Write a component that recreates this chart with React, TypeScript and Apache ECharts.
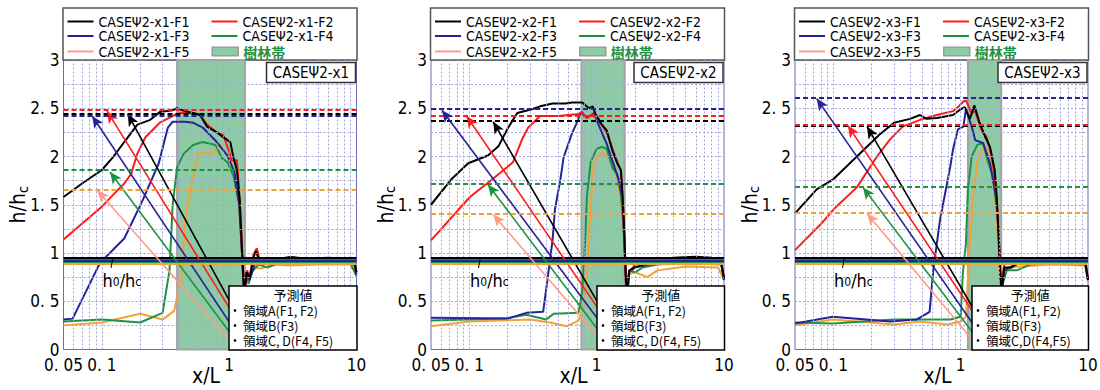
import React, { useEffect, useRef } from 'react';
import * as echarts from 'echarts';

// ---------- data ----------
const CASES = ['x1', 'x2', 'x3'];
const RUNS = ['F1', 'F2', 'F3', 'F4', 'F5'];
const X_LABELS = [0.05, 0.1, 1, 10];
const Y_LABELS = [0, 0.5, 1, 1.5, 2, 2.5, 3];
const X_GRID = [0.06, 0.07, 0.08, 0.09, 0.1, 0.2, 0.3, 0.4, 0.5, 0.6, 0.7, 0.8, 0.9, 1, 2, 3, 4, 5, 6, 7, 8, 9];
const Y_GRID = [0.25, 0.5, 0.75, 1, 1.25, 1.5, 1.75, 2, 2.25, 2.5, 2.75];

const X1_F1 = [[0.05,1.58],[0.07,1.72],[0.1,1.86],[0.122,1.99],[0.15,2.15],[0.19,2.33],[0.24,2.38],[0.285,2.46],[0.36,2.48],[0.39,2.5],[0.45,2.47],[0.52,2.45],[0.59,2.43],[0.67,2.31],[0.8,2.25],[0.97,2.17],[1.02,2.15],[1.08,1.99],[1.15,1.86],[1.21,1.55],[1.26,1.05],[1.3,0.68],[1.33,0.62],[1.37,0.8],[1.45,0.74],[1.55,0.95],[1.62,1.02],[1.75,0.9],[2,0.93],[2.5,0.94],[3,0.96],[4,0.94],[6,0.95],[9,0.94],[9.6,0.9],[10,0.8]];
const X1_F2 = [[0.05,1.14],[0.1,1.48],[0.122,1.6],[0.15,1.72],[0.17,1.82],[0.19,2.03],[0.22,2.2],[0.285,2.35],[0.35,2.41],[0.4,2.45],[0.52,2.45],[0.59,2.43],[0.67,2.33],[0.8,2.25],[0.9,2.22],[1.0,2.05],[1.04,1.96],[1.15,1.96],[1.2,1.62],[1.24,1.3],[1.28,0.85],[1.31,0.66],[1.34,0.63],[1.38,0.82],[1.45,0.76],[1.55,0.98],[1.65,1.05],[1.75,0.9],[2,0.92],[3,0.94],[5,0.93],[9,0.93],[9.6,0.9],[10,0.8]];
const X1_F3 = [[0.05,0.31],[0.059,0.32],[0.097,0.9],[0.15,1.15],[0.21,1.55],[0.28,1.93],[0.33,2.3],[0.36,2.36],[0.45,2.36],[0.52,2.35],[0.62,2.3],[0.8,2.15],[0.97,2.01],[1.1,1.84],[1.2,1.5],[1.26,1.0],[1.3,0.68],[1.33,0.6],[1.37,0.76],[1.45,0.72],[1.6,0.9],[2,0.9],[3,0.92],[5,0.91],[9,0.91],[9.6,0.88],[10,0.78]];
const X1_F4 = [[0.05,0.29],[0.1,0.31],[0.2,0.28],[0.3,0.38],[0.34,0.82],[0.36,1.5],[0.39,1.89],[0.44,2.03],[0.52,2.12],[0.62,2.15],[0.78,2.12],[0.88,1.98],[0.97,1.94],[1.08,1.8],[1.2,1.5],[1.26,1.0],[1.3,0.62],[1.35,0.8],[1.42,0.68],[1.5,0.8],[1.7,0.88],[2,0.85],[2.5,0.9],[4,0.9],[9,0.89],[10,0.76]];
const X1_F5 = [[0.05,0.25],[0.1,0.28],[0.2,0.37],[0.3,0.31],[0.37,0.4],[0.42,0.75],[0.45,1.34],[0.5,1.68],[0.57,2.04],[0.75,2.03],[0.85,2.12],[0.97,2.0],[1.15,1.7],[1.22,1.3],[1.27,0.9],[1.31,0.65],[1.36,0.78],[1.42,0.7],[1.55,0.85],[1.8,0.84],[2.2,0.88],[3,0.87],[5,0.88],[9,0.88],[10,0.76]];

const X2_F1 = [[0.05,1.5],[0.073,1.77],[0.098,1.93],[0.14,2.01],[0.17,2.11],[0.2,2.29],[0.238,2.45],[0.31,2.49],[0.36,2.52],[0.45,2.55],[0.57,2.55],[0.64,2.56],[0.77,2.56],[0.87,2.5],[0.93,2.52],[0.98,2.44],[1.08,2.34],[1.2,2.27],[1.33,2.06],[1.45,1.93],[1.55,1.86],[1.6,1.58],[1.65,1.2],[1.7,0.7],[1.75,0.62],[1.8,0.82],[2.0,0.85],[2.3,0.88],[3,0.92],[4,0.95],[6,0.96],[8,0.95],[9.5,0.9],[10,0.74]];
const X2_F2 = [[0.05,1.13],[0.101,1.58],[0.15,1.76],[0.22,1.94],[0.26,2.18],[0.29,2.3],[0.36,2.42],[0.5,2.42],[0.72,2.44],[0.77,2.46],[0.84,2.4],[0.93,2.44],[1.04,2.39],[1.13,2.3],[1.2,2.25],[1.33,2.08],[1.45,1.95],[1.55,1.85],[1.6,1.55],[1.65,1.15],[1.7,0.69],[1.75,0.62],[1.8,0.8],[2,0.88],[3,0.92],[5,0.94],[8,0.93],[9.5,0.9],[10,0.75]];
const X2_F3 = [[0.05,0.33],[0.2,0.32],[0.28,0.38],[0.38,0.39],[0.42,0.82],[0.45,1.13],[0.47,1.45],[0.52,1.77],[0.55,1.99],[0.64,2.24],[0.71,2.37],[0.75,2.46],[0.84,2.4],[0.95,2.45],[1.08,2.27],[1.2,2.13],[1.38,1.89],[1.5,1.75],[1.6,1.55],[1.65,1.1],[1.7,0.68],[1.75,0.6],[1.8,0.8],[2,0.85],[3,0.9],[5,0.92],[9.5,0.9],[10,0.72]];
const X2_F4 = [[0.05,0.3],[0.19,0.32],[0.28,0.36],[0.4,0.31],[0.46,0.37],[0.72,0.38],[0.77,0.6],[0.81,1.1],[0.84,1.6],[0.9,1.95],[1.0,2.08],[1.1,2.1],[1.2,2.08],[1.33,1.88],[1.45,1.82],[1.55,1.6],[1.62,1.3],[1.67,0.9],[1.72,0.62],[1.8,0.82],[2,0.8],[2.3,0.85],[3,0.88],[5,0.9],[9.5,0.88],[10,0.72]];
const X2_F5 = [[0.05,0.24],[0.1,0.29],[0.3,0.31],[0.43,0.28],[0.58,0.24],[0.72,0.3],[0.79,0.44],[0.84,0.82],[0.9,1.51],[0.95,1.93],[1.08,2.04],[1.26,1.99],[1.45,1.78],[1.6,1.41],[1.68,0.93],[1.72,0.65],[1.8,0.78],[2.0,0.8],[2.5,0.75],[3,0.82],[5,0.86],[9,0.85],[10,0.72]];

const X3_F1 = [[0.05,1.41],[0.074,1.66],[0.099,1.76],[0.153,2.0],[0.232,2.23],[0.3,2.35],[0.4,2.39],[0.48,2.43],[0.54,2.39],[0.65,2.4],[0.87,2.43],[1.0,2.49],[1.08,2.51],[1.18,2.39],[1.28,2.53],[1.4,2.36],[1.55,2.21],[1.7,2.1],[1.85,1.86],[1.91,1.62],[1.97,1.31],[2.05,0.75],[2.1,0.62],[2.2,0.85],[2.5,0.85],[3,0.92],[5,0.93],[8,0.93],[9.5,0.92],[10,0.72]];
const X3_F2 = [[0.05,1.03],[0.08,1.3],[0.1,1.45],[0.153,1.68],[0.22,2.0],[0.28,2.18],[0.35,2.31],[0.48,2.38],[0.65,2.43],[0.87,2.47],[0.95,2.51],[1.05,2.57],[1.1,2.58],[1.22,2.45],[1.3,2.47],[1.45,2.28],[1.6,2.2],[1.75,2.0],[1.85,1.8],[1.95,1.4],[2.02,0.9],[2.08,0.68],[2.2,0.88],[3,0.93],[5,0.94],[8,0.93],[9.5,0.92],[10,0.74]];
const X3_F3 = [[0.05,0.27],[0.099,0.34],[0.28,0.29],[0.45,0.31],[0.57,0.39],[0.61,0.83],[0.69,1.35],[0.83,1.9],[0.87,2.07],[0.95,2.28],[1.05,2.31],[1.1,2.49],[1.22,2.31],[1.3,2.17],[1.5,2.14],[1.7,1.93],[1.91,1.55],[2.0,1.13],[2.06,0.7],[2.1,0.6],[2.2,0.82],[2.5,0.86],[3,0.9],[5,0.91],[9.5,0.9],[10,0.72]];
const X3_F4 = [[0.05,0.28],[0.099,0.27],[0.3,0.31],[0.61,0.31],[0.83,0.31],[1.0,0.34],[1.04,0.79],[1.1,1.1],[1.14,1.66],[1.22,2.0],[1.35,2.12],[1.5,2.14],[1.65,1.93],[1.8,1.79],[1.95,1.38],[2.0,1.13],[2.06,0.72],[2.12,0.66],[2.3,0.82],[2.77,0.82],[3.5,0.88],[5,0.89],[9.5,0.88],[10,0.72]];
const X3_F5 = [[0.05,0.25],[0.099,0.31],[0.3,0.26],[0.48,0.29],[0.79,0.26],[1.0,0.29],[1.1,0.34],[1.17,1.0],[1.24,1.52],[1.35,1.94],[1.5,2.09],[1.65,2.04],[1.8,1.76],[1.91,1.42],[2.0,0.93],[2.05,0.65],[2.15,0.8],[2.5,0.85],[3,0.86],[5,0.88],[9.5,0.87],[10,0.7]];

// predicted h/hc (dashed) and h0/hc (solid), per run F1..F5
const X1_PRED = [2.44, 2.48, 2.42, 1.86, 1.66];
const X2_PRED = [2.37, 2.42, 2.49, 1.72, 1.41];
const X3_PRED = [2.32, 2.33, 2.61, 1.69, 1.42];
const H0 = [0.95, 0.93, 0.915, 0.9, 0.89];

// forest belt extent (x/L)
const X1_FOREST = [0.39, 1.33];
const X2_FOREST = [0.76, 1.66];
const X3_FOREST = [1.14, 2.08];

// annotation arrows (from prediction box to predicted level)
const X1_ARROW_FROM = [[1.05,0.46],[1.05,0.39],[1.02,0.27],[1.02,0.17],[1.02,0.09]];
const X1_ARROW_TO = [[0.16,2.44],[0.11,2.47],[0.084,2.42],[0.116,1.84],[0.092,1.65]];
const X2_ARROW_FROM = [[1.07,0.44],[1.07,0.39],[1.07,0.28],[1.07,0.17],[1.07,0.1]];
const X2_ARROW_TO = [[0.154,2.36],[0.095,2.42],[0.061,2.48],[0.14,1.71],[0.154,1.4]];
const X3_ARROW_FROM = [[1.25,0.43],[1.25,0.39],[1.25,0.265],[1.25,0.17],[1.25,0.09]];
const X3_ARROW_TO = [[0.184,2.31],[0.13,2.32],[0.074,2.6],[0.171,1.68],[0.184,1.41]];

const BOX_ROWS = [
  ['領域A(F1, F2)', '領域B(F3)', '領域C, D(F4, F5)'],
  ['領域A(F1, F2)', '領域B(F3)', '領域C, D(F4, F5)'],
  ['領域A(F1, F2)', '領域B(F3)', '領域C,D(F4,F5)'],
];

// ---------- styles / layout ----------
const FONT = "'Liberation Sans Narrow', 'Arial Narrow', 'DejaVu Sans Condensed', 'Liberation Sans', sans-serif";
const CJK = "'Noto Sans CJK JP', sans-serif";
const COLORS = ['#000000', '#ff1a1a', '#23239b', '#1f9142', '#f4a236'];
const LEGEND_COLORS = ['#000000', '#ff1a1a', '#23239b', '#1f9142', '#ff9c84'];
const FOREST_FILL = '#8fcaa7';
const GRID_LINE = '#a4a4dc';
const PLOT_LEFT = [63.5, 431, 795];
const PLOT_TOP = 60;
const PLOT_W = 293;
const PLOT_H = 289.5;
const BOX_OFF = [165.5, 166, 177];
const LINE_ICON = 'path://M0,0h26v2h-26z';

const SERIES_DATA = [
  [X1_F1, X1_F2, X1_F3, X1_F4, X1_F5],
  [X2_F1, X2_F2, X2_F3, X2_F4, X2_F5],
  [X3_F1, X3_F2, X3_F3, X3_F4, X3_F5],
];
const PRED = [X1_PRED, X2_PRED, X3_PRED];
const FOREST = [X1_FOREST, X2_FOREST, X3_FOREST];
const ARROW_FROM = [X1_ARROW_FROM, X2_ARROW_FROM, X3_ARROW_FROM];
const ARROW_TO = [X1_ARROW_TO, X2_ARROW_TO, X3_ARROW_TO];

function fmtNum(v: number): string {
  if (Math.abs(v - 0.05) < 1e-9) return '0. 05';
  if (Math.abs(v - Math.round(v)) < 1e-9) return String(Math.round(v));
  return String(Math.round(v * 100) / 100).replace('.', '. ');
}

function buildOption() {
  const grid: any[] = [];
  const xAxis: any[] = [];
  const yAxis: any[] = [];
  const series: any[] = [];
  const legend: any[] = [];
  const graphic: any[] = [];

  CASES.forEach((c, k) => {
    const L = PLOT_LEFT[k];
    grid.push({ left: L, top: PLOT_TOP, width: PLOT_W, height: PLOT_H, show: true, borderColor: '#6a6ab4', borderWidth: 1, backgroundColor: '#fff', containLabel: false, outerBoundsMode: 'none' });
    xAxis.push({
      type: 'log', logBase: 10, gridIndex: k, min: 0.05, max: 10,
      axisLine: { show: false }, axisTick: { show: false }, splitLine: { show: false },
      axisLabel: { customValues: X_LABELS, formatter: (v: number) => fmtNum(v), fontSize: 17, color: '#000', fontFamily: FONT, margin: 7 },
      name: 'x/L', nameLocation: 'middle', nameGap: 16, nameMoveOverlap: false,
      nameTextStyle: { fontSize: 21, color: '#000', fontFamily: FONT, padding: [0, 8, 0, 0] },
    });
    yAxis.push({
      type: 'value', gridIndex: k, min: 0, max: 3, interval: 0.5,
      axisLine: { show: false }, axisTick: { show: false }, splitLine: { show: false },
      axisLabel: { customValues: Y_LABELS, formatter: (v: number) => fmtNum(v), fontSize: 17, color: '#000', fontFamily: FONT, margin: 4, padding: [0, 0, 12, 0] },
      name: '{a|h/h}{b|c}', nameLocation: 'middle', nameGap: 34, nameMoveOverlap: false,
      nameTextStyle: {
        rich: {
          a: { fontSize: 21, color: '#000', fontFamily: FONT },
          b: { fontSize: 14, color: '#000', fontFamily: FONT, verticalAlign: 'bottom', padding: [9, 0, 0, 0] },
        },
      },
    });

    // forest belt
    series.push({
      type: 'line', name: '樹林帯', xAxisIndex: k, yAxisIndex: k, data: [], z: 1, silent: true,
      itemStyle: { color: FOREST_FILL },
      markArea: {
        silent: true,
        itemStyle: { color: FOREST_FILL, borderColor: '#a3a3a3', borderWidth: 2 },
        data: [[{ xAxis: FOREST[k][0] }, { xAxis: FOREST[k][1] }]],
      },
    });
    // grid lines
    series.push({
      type: 'line', name: 'grid-' + c, xAxisIndex: k, yAxisIndex: k, data: [], z: 2, silent: true,
      markLine: {
        silent: true, symbol: ['none', 'none'], label: { show: false },
        lineStyle: { type: [2, 2], color: GRID_LINE, width: 1 },
        data: [...X_GRID.map((v) => ({ xAxis: v })), ...Y_GRID.map((v) => ({ yAxis: v }))],
      },
    });

    RUNS.forEach((r, j) => {
      const name = `CASEΨ2-${c}-${r}`;
      const col = COLORS[j];
      const arrowCol = LEGEND_COLORS[j];
      series.push({
        type: 'line', name, xAxisIndex: k, yAxisIndex: k, data: SERIES_DATA[k][j],
        symbol: 'none', z: 3 + (4 - j) * 0.01,
        lineStyle: { color: col, width: 2 }, itemStyle: { color: col },
        markLine: {
          silent: true, symbol: ['none', 'none'], label: { show: false },
          data: [
            { yAxis: PRED[k][j], lineStyle: { color: col, width: 2, type: [5, 3] } },
            { yAxis: H0[j], lineStyle: { color: col, width: 2.2, type: 'solid' } },
            [
              { coord: ARROW_FROM[k][j], symbol: 'none', lineStyle: { color: arrowCol, width: 1.6, type: 'solid' } },
              { coord: ARROW_TO[k][j], symbol: 'arrow', symbolSize: [8, 12], lineStyle: { color: arrowCol, width: 1.6, type: 'solid' } },
            ],
          ],
        },
      });
    });

    // legend: three rows
    const rowCenters = [19.5, 34, 49.5];
    const rows: number[][] = [
      [0, 1],
      [2, 3],
      [4, -1],
    ];
    rows.forEach((row, ri) => {
      legend.push({
        left: L + 4, top: rowCenters[ri] - 5, orient: 'horizontal', padding: 0, itemGap: 1,
        itemWidth: 26, itemHeight: 10, selectedMode: false, z: 10, symbolKeepAspect: true,
        textStyle: { fontSize: 14, lineHeight: 12, color: '#000', fontFamily: FONT, width: 112 },
        data: row.map((j: number) =>
          j >= 0
            ? { name: `CASEΨ2-${c}-${RUNS[j]}`, icon: LINE_ICON, itemStyle: { color: LEGEND_COLORS[j], borderWidth: 0 } }
            : { name: '樹林帯', icon: 'path://M0,0h24v8h-24z', itemStyle: { color: FOREST_FILL, borderColor: '#9a9a9a', borderWidth: 1.5 }, textStyle: { color: '#1f9142', fontFamily: CJK, fontWeight: 'bold', fontSize: 14, lineHeight: 12 } }
        ),
      });
    });

    // legend frame
    graphic.push({ type: 'rect', z: 0, silent: true, shape: { x: L - 0.5, y: 8, width: PLOT_W + 1, height: 52 }, style: { fill: '#fff', stroke: '#555', lineWidth: 1.5 } });
    // case label box
    graphic.push({ type: 'rect', z: 50, silent: true, shape: { x: L + 203, y: 62.5, width: 89, height: 20 }, style: { fill: '#fff', stroke: '#333', lineWidth: 1.5 } });
    graphic.push({ type: 'text', z: 51, silent: true, x: L + 247.5, y: 72.5, style: { text: `CASEΨ2-${c}`, fontSize: 15, lineHeight: 14, fontFamily: FONT, fill: '#000', align: 'center', verticalAlign: 'middle' } });
    // h0/hc annotation
    graphic.push({ type: 'line', z: 50, silent: true, shape: { x1: L + 49.5, y1: 257, x2: L + 47.5, y2: 268 }, style: { stroke: '#000', lineWidth: 1 } });
    graphic.push({
      type: 'text', z: 51, silent: true, x: L + 39, y: 280,
      style: {
        text: '{a|h}{b|0}{a|/h}{b|c}', verticalAlign: 'middle', align: 'left',
        rich: {
          a: { fontSize: 18, lineHeight: 16, fontFamily: FONT, fill: '#000' },
          b: { fontSize: 12, lineHeight: 12, fontFamily: FONT, fill: '#000', verticalAlign: 'bottom', padding: [6, 0, 0, 0] },
        },
      },
    });
    // prediction box
    const bx = L + BOX_OFF[k];
    const bw = PLOT_W - BOX_OFF[k] + 0.5;
    graphic.push({ type: 'rect', z: 60, silent: true, shape: { x: bx, y: 286, width: bw, height: 64 }, style: { fill: '#fff', stroke: '#000', lineWidth: 1.5 } });
    graphic.push({ type: 'text', z: 61, silent: true, x: bx + bw / 2, y: 294, style: { text: '予測値', fontSize: 13, lineHeight: 13, fontFamily: CJK, fill: '#000', align: 'center', verticalAlign: 'middle' } });
    BOX_ROWS[k].forEach((t, i) => {
      graphic.push({ type: 'circle', z: 61, silent: true, shape: { cx: bx + 6, cy: 310.5 + i * 15, r: 1.3 }, style: { fill: '#000' } });
    });
    graphic.push({
      type: 'text', z: 61, silent: true, x: bx + 14, y: 303,
      style: { text: BOX_ROWS[k].join('\n'), fontSize: 12.5, lineHeight: 15, fontFamily: CJK, fill: '#000', align: 'left', verticalAlign: 'top' },
    });
  });

  return { animation: false, backgroundColor: '#fff', grid, xAxis, yAxis, series, legend, graphic };
}

export default function App() {
  const ref = useRef<HTMLDivElement>(null);
  useEffect(() => {
    const chart = echarts.init(ref.current!, null, { renderer: 'svg' });
    chart.setOption(buildOption() as any);
    return () => chart.dispose();
  }, []);
  return <div ref={ref} style={{ position: 'fixed', left: 0, top: 0, width: 1100, height: 390, background: '#fff' }} />;
}
